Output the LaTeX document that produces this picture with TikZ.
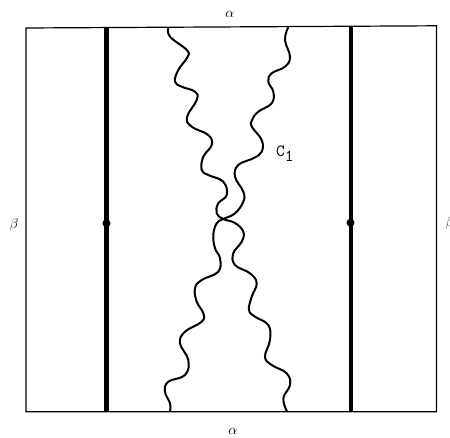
\documentclass[tikz,border=0pt]{standalone}
\begin{document}
\begin{tikzpicture}[x=1pt,y=-1pt,
  frame/.style={line width=1.2pt},
  thickline/.style={line width=4.8pt},
  wavy/.style={line width=2pt, smooth, tension=0.7},
  lbl/.style={inner sep=0pt, font=\fontsize{15}{17}\selectfont},
  clbl/.style={inner sep=0pt, font=\fontsize{17}{19}\selectfont},
  dotmark/.style={circle, fill=black, inner sep=0pt, minimum size=8pt}]
\useasboundingbox (0,0) rectangle (450,438);
% frame
\coordinate (tl) at (26,28);
\coordinate (tr) at (436.5,25.8);
\coordinate (br) at (436.5,411.8);
\coordinate (bl) at (26,411.8);
\draw[frame] (tl) -- (tr) -- (br) -- (bl) -- cycle;
% thick vertical lines
\coordinate (lt) at (106.5,27.5);
\coordinate (lb) at (106.5,411.8);
\coordinate (rt) at (351,26.5);
\coordinate (rb) at (351,411.8);
\draw[thickline] (lt) -- (lb);
\draw[thickline] (rt) -- (rb);
\node[dotmark] (ldot) at (106.5,223.3) {};
\node[dotmark] (rdot) at (350.5,222.7) {};
% wavy curves
\draw[wavy] plot coordinates {(168.5,28) (170,36.7) (186.7,50) (187.5,57) (178.3,70) (175,81.7) (181.7,86.7) (195,91.7) (196.7,100) (187,117) (191.7,126.7) (208.3,135) (211.7,145) (203.3,156.7) (201.7,170) (208.3,175) (223.3,181.7) (226.7,195) (218.3,203.3) (216.7,213.3) (223.3,219) (235,223) (243.3,231.7) (241.7,241.7) (233.3,253.3) (235,265) (250,273.3) (256.7,283.3) (251.7,296.7) (249,310) (255,316.7) (268.3,325) (270,340) (265,356.7) (271.7,365) (286.7,373.3) (290,385) (283.3,398.3) (287,411.5)};
\draw[wavy] plot coordinates {(288.3,27) (285,40) (290,56.7) (285,66.7) (271.7,73.3) (268.3,81.7) (273.3,91.7) (271.7,103.3) (258.3,111.7) (252,120) (252,127) (261.7,140) (261.7,151.7) (253.3,158.3) (238.3,165) (235,176.7) (243.3,191.7) (243.3,201.7) (235,213.3) (223.3,219) (216.7,223.3) (213.3,235) (215,248.3) (220,258.3) (218.3,271.7) (201.7,280) (195,288.3) (196.7,301.7) (203.3,313.3) (201.7,321.7) (185,331.7) (180,343.3) (188.3,360) (185,375) (168.3,381.7) (165,391.7) (170,403.3) (170,411.5)};
% labels
\node[lbl] (atop) at (230,14) {$\alpha$};
\node[lbl] (abot) at (233,431) {$\alpha$};
\node[lbl] (bleft) at (14,225) {$\beta$};
\node[lbl] (bright) at (450,223) {$\beta$};
\node[clbl, anchor=west] (c1) at (276,154) {\texttt{C}\raisebox{-0.7ex}{\texttt{1}}};
\end{tikzpicture}
\end{document}
